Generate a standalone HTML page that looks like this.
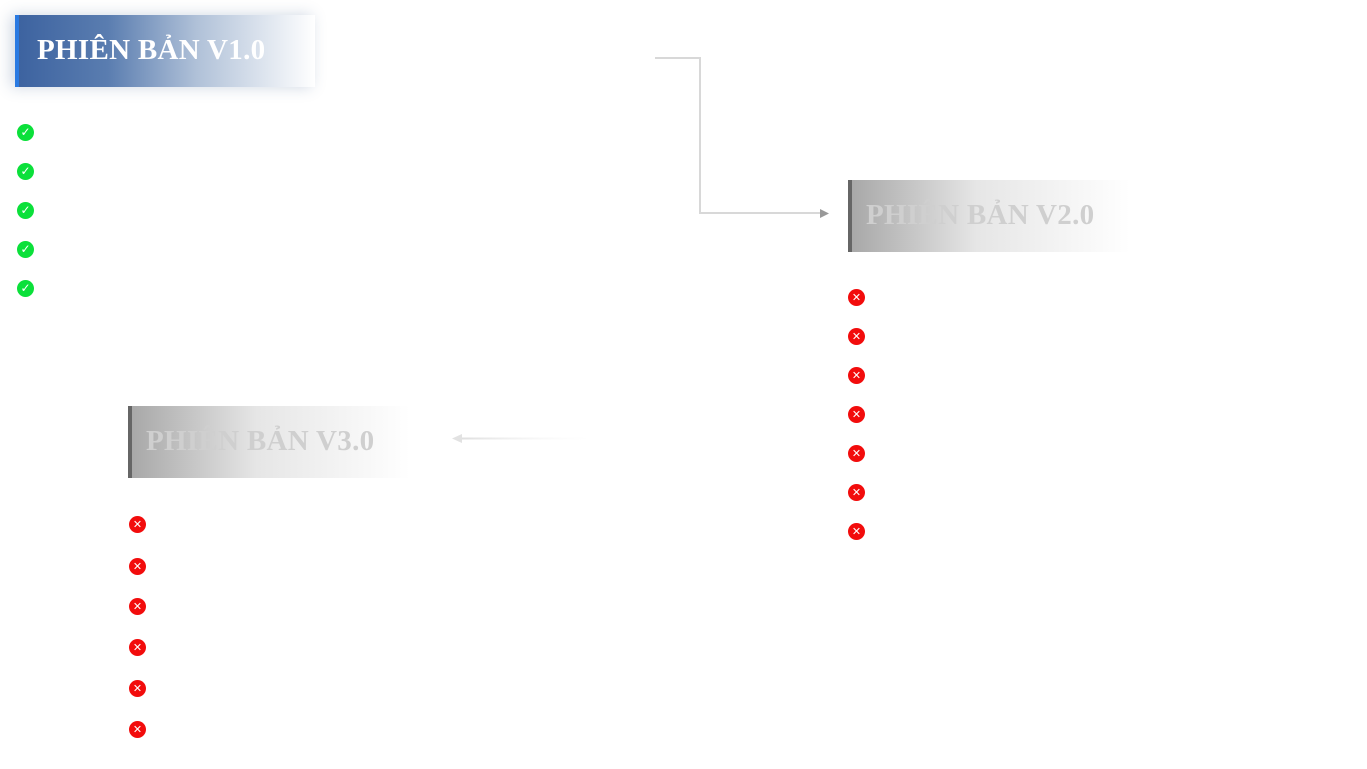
<!DOCTYPE html>
<html><head><meta charset="utf-8"><style>
body{margin:0;width:1367px;height:769px;background:#fff;position:relative;overflow:hidden;font-family:"Liberation Serif",serif}
.h{position:absolute;height:72px;width:300px;box-sizing:border-box;}
.h span{position:absolute;left:18px;top:19px;font-size:29px;font-weight:bold;letter-spacing:0.3px;white-space:nowrap}
.h1{left:15px;top:15px;border-left:4px solid #2a7ae2;background:linear-gradient(90deg,#3d63a0 0%,#5a7db0 30%,#b0c1d8 60%,#fff 100%);box-shadow:-4px 0 14px rgba(60,90,140,.25)}
.h1 span{color:#fff}
.h2{width:282px;border-left:4px solid #666;background:linear-gradient(90deg,#a8a8a8 0%,#e6e6e6 45%,#fff 100%)}
.h2 span{color:#cfcfcf;left:14px}
.i{position:absolute;width:17px;height:17px;border-radius:50%;color:#fff;font:bold 12px/17px "DejaVu Sans",sans-serif;text-align:center}
.g{background:#0be03a}.r{background:#f20c0c;font-size:11px}
</style></head><body>
<div class="h h1"><span>PHIÊN BẢN V1.0</span></div>
<div class="h h2" style="left:848px;top:180px"><span>PHIÊN BẢN V2.0</span></div>
<div class="h h2" style="left:128px;top:406px"><span>PHIÊN BẢN V3.0</span></div>
<svg width="1367" height="769" style="position:absolute;left:0;top:0">
<defs>
<linearGradient id="b" gradientUnits="userSpaceOnUse" x1="455" y1="0" x2="590" y2="0"><stop offset="0" stop-color="#dcdcdc"/><stop offset="1" stop-color="#f5f5f5" stop-opacity="0"/></linearGradient></defs>
<path d="M655 58H700V213H820" fill="none" stroke="#d8d8d8" stroke-width="2"/>
<path d="M820 209L829 213.5L820 218Z" fill="#999"/>
<path d="M460 438.5H590" stroke="url(#b)" stroke-width="2"/>
<path d="M462 434L452 438.5L462 443Z" fill="#e2e2e2"/>
</svg>
<div class="i g" style="left:17px;top:124px">✓</div>
<div class="i g" style="left:17px;top:163px">✓</div>
<div class="i g" style="left:17px;top:202px">✓</div>
<div class="i g" style="left:17px;top:241px">✓</div>
<div class="i g" style="left:17px;top:280px">✓</div>
<div class="i r" style="left:848px;top:289px">✕</div>
<div class="i r" style="left:848px;top:328px">✕</div>
<div class="i r" style="left:848px;top:367px">✕</div>
<div class="i r" style="left:848px;top:406px">✕</div>
<div class="i r" style="left:848px;top:445px">✕</div>
<div class="i r" style="left:848px;top:484px">✕</div>
<div class="i r" style="left:848px;top:523px">✕</div>
<div class="i r" style="left:129px;top:516px">✕</div>
<div class="i r" style="left:129px;top:558px">✕</div>
<div class="i r" style="left:129px;top:598px">✕</div>
<div class="i r" style="left:129px;top:639px">✕</div>
<div class="i r" style="left:129px;top:680px">✕</div>
<div class="i r" style="left:129px;top:721px">✕</div>
</body></html>
